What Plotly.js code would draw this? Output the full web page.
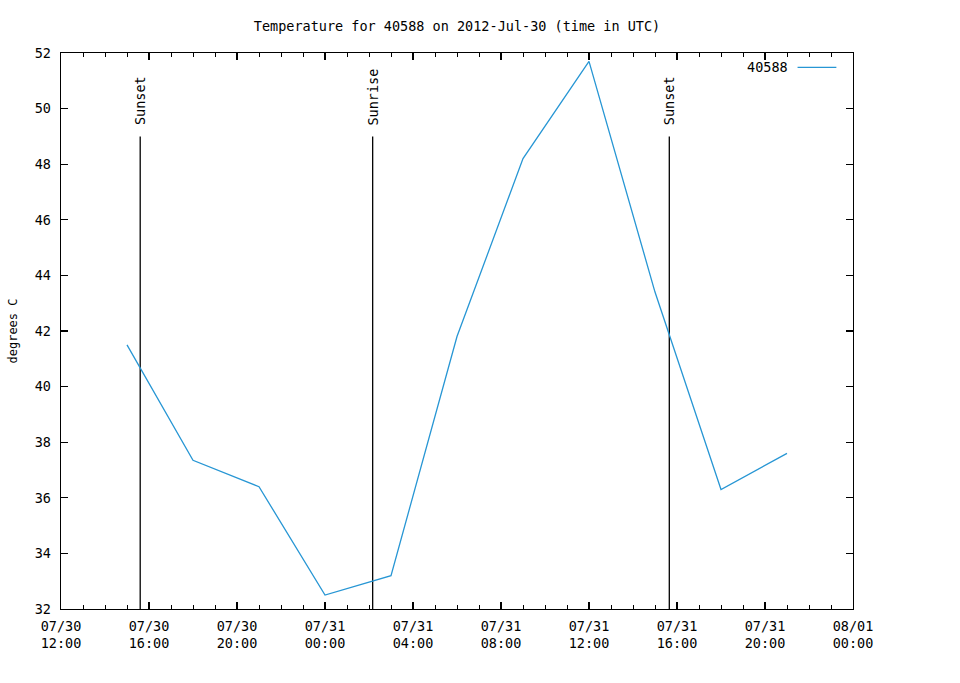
<!DOCTYPE html>
<html>
<head>
<meta charset="utf-8">
<script src="https://cdn.plot.ly/plotly-3.0.1.min.js"></script>
<style>
  html, body { margin: 0; padding: 0; background: #fff; }
  #chart { width: 960px; height: 683px; }
</style>
</head>
<body>
<div id="chart"></div>
<script>
// temperature readings (UTC)
var times = ['2012-07-30 15:00', '2012-07-30 18:00', '2012-07-30 21:00', '2012-07-31 00:00',
  '2012-07-31 03:00', '2012-07-31 06:00', '2012-07-31 09:00', '2012-07-31 12:00',
  '2012-07-31 15:00', '2012-07-31 18:00', '2012-07-31 21:00'];
var temps = [41.5, 37.35, 36.4, 32.5, 33.2, 41.8, 48.2, 51.7, 43.4, 36.3, 37.6];
var stationName = '40588';

// sunrise / sunset markers
var sunTimes = ['2012-07-30 15:36', '2012-07-31 02:10', '2012-07-31 15:39'];
var sunLabels = ['Sunset', 'Sunrise', 'Sunset'];
var sunLineBottom = 32;
var sunLineTop = 49;

// x axis ticks
var tickTimes = ['2012-07-30 12:00', '2012-07-30 16:00', '2012-07-30 20:00', '2012-07-31 00:00',
  '2012-07-31 04:00', '2012-07-31 08:00', '2012-07-31 12:00', '2012-07-31 16:00',
  '2012-07-31 20:00', '2012-08-01 00:00'];
var tickText = ['07/30<br>12:00', '07/30<br>16:00', '07/30<br>20:00', '07/31<br>00:00',
  '07/31<br>04:00', '07/31<br>08:00', '07/31<br>12:00', '07/31<br>16:00',
  '07/31<br>20:00', '08/01<br>00:00'];

var lineColor = '#2796d4';
var mono = 'DejaVu Sans Mono, monospace';

var data = [];
var annotations = [];
for (var i = 0; i < sunTimes.length; i++) {
  data.push({
    type: 'scatter',
    mode: 'lines',
    x: [sunTimes[i], sunTimes[i]],
    y: [sunLineBottom, sunLineTop],
    line: {color: '#000', width: 1.3},
    showlegend: false,
    hoverinfo: 'skip'
  });
  annotations.push({
    x: sunTimes[i], y: sunLineTop,
    xref: 'x', yref: 'y',
    text: sunLabels[i],
    textangle: -90,
    showarrow: false,
    xanchor: 'center', yanchor: 'bottom',
    yshift: 9,
    font: {family: mono, size: 13.5, color: '#000'}
  });
}

data.push({
  type: 'scatter',
  mode: 'lines',
  name: stationName,
  x: times,
  y: temps,
  line: {color: lineColor, width: 1.3},
  showlegend: false
});

// gnuplot style key: text then line sample
annotations.push({
  xref: 'paper', yref: 'paper',
  x: 0.921, y: 0.974,
  xanchor: 'right', yanchor: 'middle',
  text: stationName,
  showarrow: false,
  font: {family: mono, size: 13.5, color: '#000'}
});

var layout = {
  width: 960,
  height: 683,
  margin: {l: 61, r: 107, t: 53, b: 74},
  paper_bgcolor: '#fff',
  plot_bgcolor: '#fff',
  font: {family: mono, size: 13.5, color: '#000'},
  title: {
    text: 'Temperature for 40588 on 2012-Jul-30 (time in UTC)',
    x: 0.5, xref: 'paper',
    y: 0.961, yref: 'container', yanchor: 'middle',
    font: {family: mono, size: 13.5, color: '#000'}
  },
  xaxis: {
    type: 'date',
    range: ['2012-07-30 12:00', '2012-08-01 00:00'],
    tickvals: tickTimes,
    ticktext: tickText,
    ticks: 'inside',
    ticklen: 7,
    tickwidth: 1.2,
    tickcolor: '#000',
    minor: {dtick: 3600000, ticks: 'inside', ticklen: 4, tickwidth: 1, tickcolor: '#000'},
    showline: true,
    linecolor: '#000',
    linewidth: 1.3,
    mirror: 'ticks',
    showgrid: false,
    zeroline: false,
    ticklabelstandoff: 4,
    tickfont: {family: mono, size: 13.5, color: '#000'}
  },
  yaxis: {
    range: [32, 52],
    dtick: 2,
    ticks: 'inside',
    ticklen: 7,
    tickwidth: 1.2,
    tickcolor: '#000',
    showline: true,
    linecolor: '#000',
    linewidth: 1.3,
    mirror: 'ticks',
    showgrid: false,
    zeroline: false,
    ticklabelstandoff: 6,
    tickfont: {family: mono, size: 13.5, color: '#000'},
    title: {text: 'degrees C', standoff: 14, font: {family: mono, size: 12, color: '#000'}}
  },
  shapes: [{
    type: 'line',
    xref: 'paper', yref: 'paper',
    x0: 0.93, x1: 0.979, y0: 0.974, y1: 0.974,
    line: {color: lineColor, width: 1.3}
  }],
  annotations: annotations,
  showlegend: false
};

Plotly.newPlot('chart', data, layout, {displayModeBar: false, staticPlot: true});
</script>
</body>
</html>
